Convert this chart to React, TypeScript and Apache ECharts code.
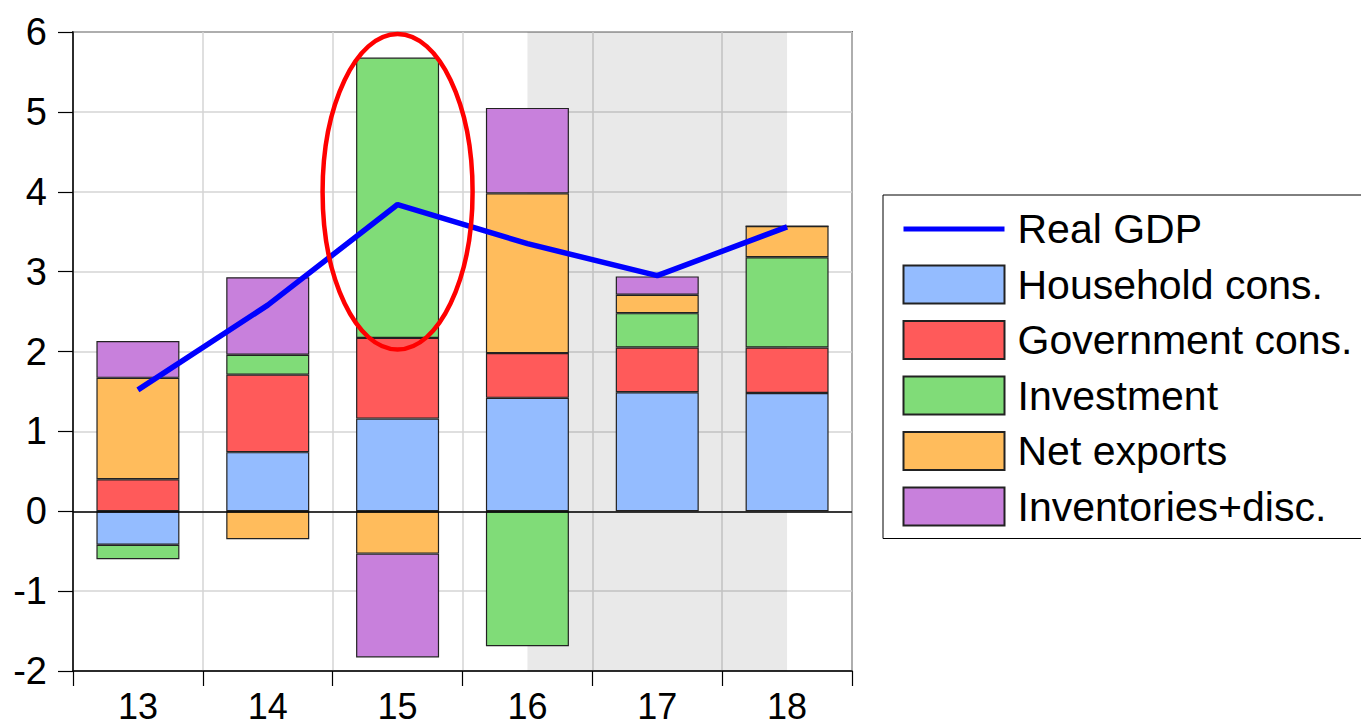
import React, { useEffect, useRef } from "react";
import * as echarts from "echarts";

const categories = ["13", "14", "15", "16", "17", "18"];
const household = [-0.42, 0.74, 1.16, 1.42, 1.49, 1.48];
const government = [0.4, 0.97, 1.01, 0.56, 0.56, 0.57];
const investment = [-0.18, 0.25, 3.51, -1.69, 0.43, 1.13];
const netExports = [1.27, -0.35, -0.53, 2.0, 0.23, 0.39];
const inventories = [0.46, 0.97, -1.3, 1.07, 0.23, 0];
const realGDP = [1.52, 2.58, 3.84, 3.35, 2.95, 3.56];
const shadeFrom = "16";
const shadeTo = "18";

const FONT = "Liberation Sans, Arial, sans-serif";

export default function App() {
  const ref = useRef<HTMLDivElement>(null);
  useEffect(() => {
    if (!ref.current) return;
    const chart = echarts.init(ref.current, null, { renderer: "svg" });
    const barStyle = (color: string) => ({
      color,
      borderColor: "#222",
      borderWidth: 1.2,
    });
    const mkBar = (name: string, data: number[], color: string, extra: any = {}) => ({
      name,
      type: "bar",
      stack: "total",
      data,
      barWidth: 83,
      itemStyle: barStyle(color),
      z: 3,
      ...extra,
    });
    chart.setOption({
      animation: false,
      backgroundColor: "#fff",
      grid: {
        left: 73,
        right: 509,
        top: 32,
        bottom: 56,
        show: true,
        borderColor: "#000",
        borderWidth: 1.5,
        backgroundColor: "transparent",
      },
      legend: {
        orient: "vertical",
        left: 883,
        top: 195,
        backgroundColor: "#fff",
        borderColor: "#000",
        borderWidth: 1,
        borderRadius: 0,
        padding: [13.5, 40, 11.5, 18],
        itemWidth: 101,
        itemHeight: 38,
        itemGap: 14.5,
        textStyle: {
          fontFamily: FONT,
          fontSize: 41,
          color: "#000",
          padding: [0, 0, 0, 8],
        },
        data: [
          { name: "Real GDP", itemStyle: { opacity: 0 }, lineStyle: { width: 5, color: "#0000ff" } },
          { name: "Household cons.", icon: "rect" },
          { name: "Government cons.", icon: "rect" },
          { name: "Investment", icon: "rect" },
          { name: "Net exports", icon: "rect" },
          { name: "Inventories+disc.", icon: "rect" },
        ],
      },
      xAxis: {
        type: "category",
        data: categories,
        axisLine: { onZero: false, lineStyle: { color: "#000", width: 1.5 } },
        axisTick: { show: true, length: 15, lineStyle: { color: "#000", width: 1.2 } },
        axisLabel: { fontFamily: FONT, fontSize: 36, color: "#000", margin: 17 },
        splitLine: { show: true, lineStyle: { color: "#d4d4d4", width: 1.5 } },
      },
      yAxis: {
        type: "value",
        min: -2,
        max: 6,
        interval: 1,
        axisLine: { show: true, lineStyle: { color: "#000", width: 1.5 } },
        axisTick: { show: true, length: 15, lineStyle: { color: "#000", width: 1.2 } },
        axisLabel: { fontFamily: FONT, fontSize: 38, color: "#000", margin: 26 },
        splitLine: { show: true, lineStyle: { color: "#d4d4d4", width: 1.5 } },
      },
      series: [
        mkBar("Household cons.", household, "#94bcff", {
          markLine: {
            silent: true,
            symbol: "none",
            label: { show: false },
            lineStyle: { color: "#000", width: 1.5, type: "solid" },
            data: [{ yAxis: 0 }],
          },
        }),
        mkBar("Government cons.", government, "#ff5a5a"),
        mkBar("Investment", investment, "#80dc78"),
        mkBar("Net exports", netExports, "#ffbc5c"),
        mkBar("Inventories+disc.", inventories, "#c880dc"),
        {
          name: "Real GDP",
          type: "line",
          data: realGDP,
          symbol: "none",
          lineStyle: { color: "#0000ff", width: 5.5 },
          itemStyle: { color: "#0000ff" },
          z: 5,
        },
      ],
    });
    const c = chart.convertToPixel({ gridIndex: 0 } as any, ["15", 4]) as number[];
    const top = chart.convertToPixel({ gridIndex: 0 } as any, ["15", 6]) as number[];
    const s0 = chart.convertToPixel({ gridIndex: 0 } as any, [shadeFrom, 6]) as number[];
    const s1 = chart.convertToPixel({ gridIndex: 0 } as any, [shadeTo, -2]) as number[];
    const ry = c[1] - top[1] - 2;
    chart.setOption({
      graphic: [
        {
          type: "rect",
          shape: { x: s0[0], y: s0[1], width: s1[0] - s0[0], height: s1[1] - s0[1] },
          style: { fill: "rgba(0,0,0,0.088)" },
          silent: true,
          z: 1,
        },
        {
          type: "ellipse",
          shape: { cx: c[0], cy: c[1], rx: 75, ry },
          style: { fill: "none", stroke: "#ff0000", lineWidth: 4.5 },
          z: 10,
        },
      ],
    });
    return () => chart.dispose();
  }, []);
  return (
    <div
      ref={ref}
      style={{ position: "fixed", left: 0, top: 0, width: 1361, height: 727 }}
    />
  );
}
